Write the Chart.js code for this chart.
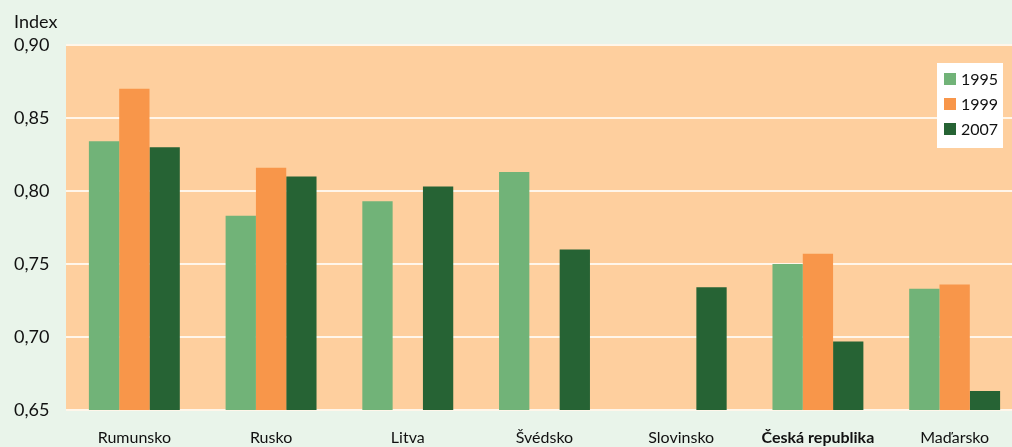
<!DOCTYPE html>
<html>
<head>
<meta charset="utf-8">
<script src="https://cdn.jsdelivr.net/npm/chart.js@4.4.1/dist/chart.umd.min.js"></script>
<style>
  html, body { margin: 0; padding: 0; background: #e9f4ea; overflow: hidden; }
  #wrap { position: relative; width: 1023px; height: 447px; }
</style>
</head>
<body>
<div id="wrap"><canvas id="c"></canvas></div>
<script>
const categories = ['Rumunsko', 'Rusko', 'Litva', 'Švédsko', 'Slovinsko', 'Česká republika', 'Maďarsko'];
const seriesNames = ['1995', '1999', '2007'];
const values1995 = [0.834, 0.783, 0.793, 0.813, null, 0.750, 0.733];
const values1999 = [0.870, 0.816, null, null, null, 0.757, 0.736];
const values2007 = [0.830, 0.810, 0.803, 0.760, 0.734, 0.697, 0.663];
const yTickValues = [0.65, 0.70, 0.75, 0.80, 0.85, 0.90];
const yTickLabels = ['0,65', '0,70', '0,75', '0,80', '0,85', '0,90'];
const axisTitle = 'Index';
const boldCategory = 'Česká republika';

const colors = ['#71b378', '#f8964a', '#266334'];
const FONT = 'Lato, "Open Sans", sans-serif';

const bgPlugin = {
  id: 'bg',
  beforeDraw(chart) {
    const { ctx, chartArea: a } = chart;
    ctx.save();
    ctx.fillStyle = '#e9f4ea';
    ctx.fillRect(0, 0, chart.width, chart.height);
    ctx.fillStyle = '#fecf9e';
    ctx.fillRect(a.left, a.top, a.right - a.left, a.bottom - a.top);
    ctx.restore();
  },
  afterDraw(chart) {
    const { ctx } = chart;
    ctx.save();
    ctx.fillStyle = '#111';
    ctx.font = '18px ' + FONT;
    ctx.textBaseline = 'middle';
    ctx.textAlign = 'left';
    ctx.fillText(axisTitle, 14, 22);
    const lx = 937, ly = 63, lw = 66, lh = 85;
    ctx.fillStyle = '#ffffff';
    ctx.fillRect(lx, ly, lw, lh);
    ctx.font = '16px ' + FONT;
    chart.data.datasets.forEach((ds, i) => {
      const cy = 79 + i * 25;
      ctx.fillStyle = ds.backgroundColor;
      ctx.fillRect(944, cy - 6, 12, 12);
      ctx.fillStyle = '#111';
      ctx.fillText(ds.label, 961, cy + 1);
    });
    ctx.restore();
  }
};

new Chart(document.getElementById('c'), {
  type: 'bar',
  data: {
    labels: categories,
    datasets: [
      { label: seriesNames[0], data: values1995, backgroundColor: colors[0] },
      { label: seriesNames[1], data: values1999, backgroundColor: colors[1] },
      { label: seriesNames[2], data: values2007, backgroundColor: colors[2] }
    ]
  },
  options: {
    responsive: true,
    maintainAspectRatio: false,
    animation: false,
    layout: { padding: { top: 45, left: 14, right: 0, bottom: 0 } },
    datasets: { bar: { categoryPercentage: 0.665, barPercentage: 1.0, borderWidth: 0 } },
    plugins: { legend: { display: false }, tooltip: { enabled: false } },
    scales: {
      x: {
        afterFit(s) { s.height = 37; },
        grid: { display: false, drawTicks: false },
        border: { display: false },
        ticks: {
          padding: 18,
          color: '#111',
          font: (ctx) => ({
            family: FONT,
            size: 16,
            weight: categories[ctx.index] === boldCategory ? 'bold' : 'normal'
          }),
          maxRotation: 0,
          autoSkip: false
        }
      },
      y: {
        min: 0.65,
        max: 0.90,
        afterFit(s) { s.width = 52; },
        afterBuildTicks(s) { s.ticks = yTickValues.map(v => ({ value: v })); },
        grid: { color: '#fff6ea', lineWidth: 2, drawTicks: false },
        border: { display: false },
        ticks: {
          crossAlign: 'far',
          padding: 4,
          color: '#111',
          font: { family: FONT, size: 18 },
          callback: (v) => {
            const i = yTickValues.findIndex(t => Math.abs(t - v) < 1e-6);
            return i >= 0 ? yTickLabels[i] : '';
          }
        }
      }
    }
  },
  plugins: [bgPlugin]
});
</script>
</body>
</html>
